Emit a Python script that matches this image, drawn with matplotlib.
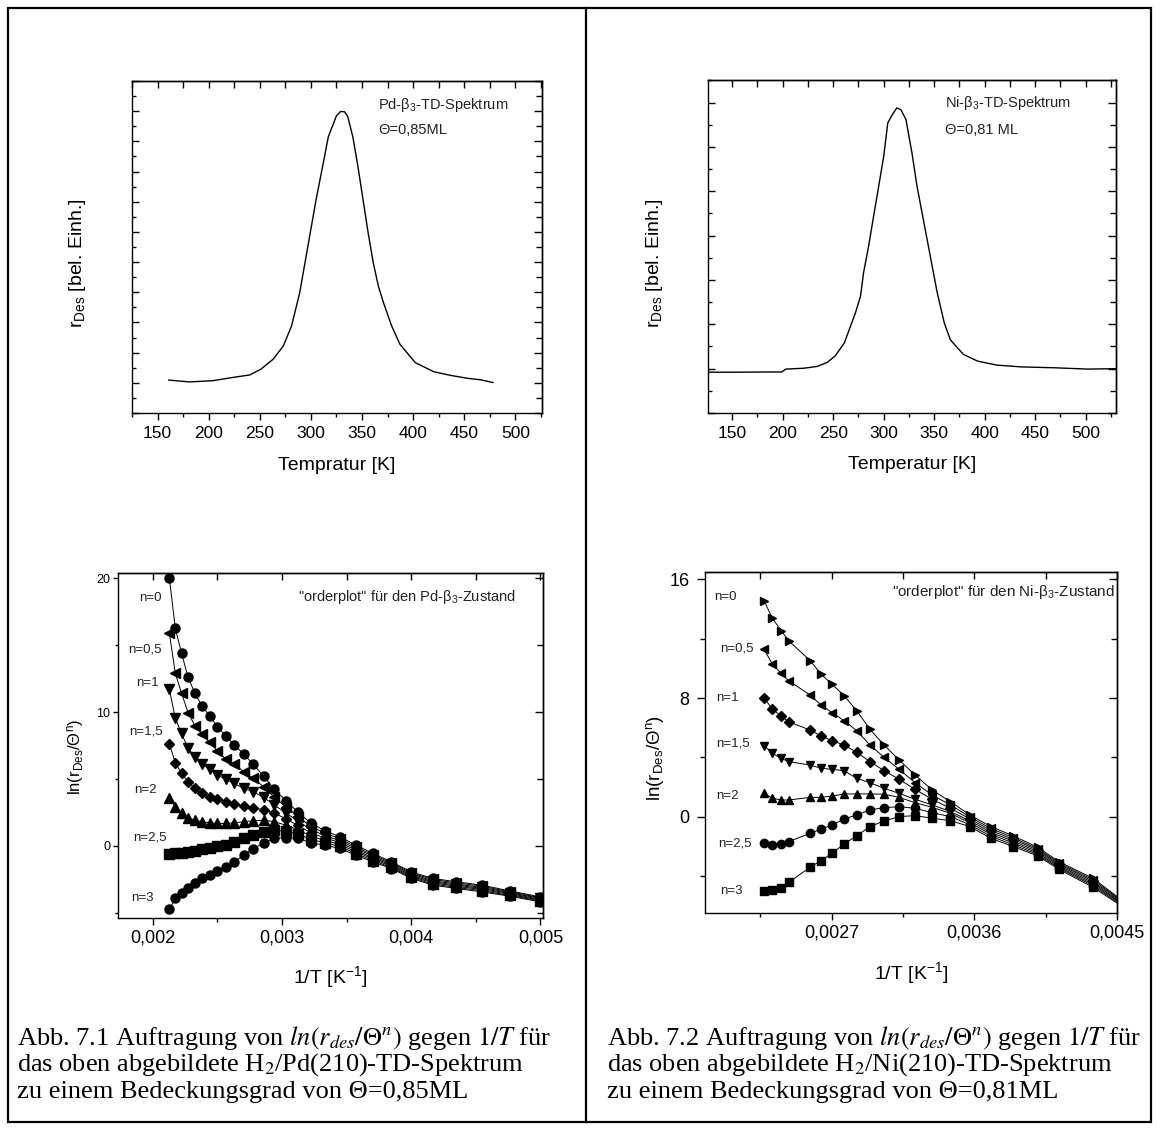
import matplotlib
matplotlib.use("Agg")
import matplotlib.pyplot as plt
from matplotlib.ticker import MultipleLocator, FuncFormatter, NullFormatter
from matplotlib.lines import Line2D
from matplotlib.patches import Rectangle

plt.rcParams['font.family'] = ['Liberation Sans', 'DejaVu Sans']
plt.rcParams['mathtext.fontset'] = 'custom'
plt.rcParams['mathtext.rm'] = 'Liberation Sans'
plt.rcParams['mathtext.it'] = 'Liberation Sans:italic'
plt.rcParams['mathtext.bf'] = 'Liberation Sans:bold'
plt.rcParams['axes.linewidth'] = 1.0

W, H = 1160, 1131

## TD spectra (arbitrary units)
pd_T = [161, 181, 204, 224, 240, 251, 263, 273, 281, 289, 297, 305, 312, 317, 322,
        325, 329, 333, 336, 341, 346, 351, 356, 361, 366, 371, 379, 387, 402, 420, 436,
        453, 466, 478]
pd_r = [0.09, 0.03, 0.07, 0.18, 0.26, 0.45, 0.78, 1.22, 1.88, 2.98, 4.52, 6.06, 7.27,
        8.15, 8.59, 8.85, 8.99, 8.98, 8.82, 8.15, 7.16, 6.06, 4.96, 3.97, 3.2, 2.65,
        1.88, 1.28, 0.67, 0.37, 0.25, 0.15, 0.10, 0.01]

ni_T = [127, 155, 181, 199, 203, 221, 234, 244, 252, 261, 267, 272, 277, 280, 285,
        290, 295, 300, 304, 308.5, 313, 317, 322, 325, 328, 333, 338, 343, 348, 353,
        360, 366, 373, 379, 393, 412, 436, 469, 502, 530]
ni_r = [-0.08, -0.08, -0.075, -0.075, -0.01, 0.01, 0.05, 0.14, 0.29, 0.58, 0.95, 1.26,
        1.63, 2.16, 2.76, 3.44, 4.11, 4.79, 5.54, 5.73, 5.88, 5.84, 5.62, 5.24, 4.86,
        4.11, 3.51, 2.91, 2.31, 1.71, 1.03, 0.65, 0.47, 0.32, 0.17, 0.08, 0.04, 0.02,
        -0.01, 0.0]

## orderplots, Pd
pd_temps = [470, 460, 450, 440, 430, 420, 410, 400, 390, 380, 370, 360, 350, 340,
            330, 320, 310, 300, 290, 280, 270, 260, 250, 240, 230, 220, 210, 200]
pd_n0 = [20.0, 16.26, 14.39, 12.59, 11.40, 10.45, 9.73, 8.90, 8.23, 7.53, 6.86, 6.08,
         5.21, 4.21, 3.37, 2.49, 1.67, 1.12, 0.67, 0.05, -0.57, -1.20, -1.95, -2.44,
         -2.69, -2.94, -3.37, -3.82]
pd_n05 = [15.89, 12.89, 11.40, 9.95, 8.98, 8.35, 7.73, 7.08, 6.48, 6.11, 5.54, 5.04,
          4.41, 3.62, 2.91, 2.17, 1.43, 0.94, 0.53, -0.08, -0.68, -1.28, -2.03, -2.52,
          -2.77, -3.02, -3.44, -3.88]
pd_n1 = [11.70, 9.53, 8.40, 7.28, 6.66, 6.11, 5.71, 5.29, 4.96, 4.66, 4.29, 4.04,
         3.62, 3.04, 2.45, 1.84, 1.19, 0.76, 0.38, -0.20, -0.78, -1.37, -2.11, -2.61,
         -2.86, -3.11, -3.50, -3.94]
pd_n15 = [7.61, 6.21, 5.41, 4.79, 4.29, 3.92, 3.67, 3.47, 3.29, 3.12, 2.99, 2.82,
          2.70, 2.45, 2.00, 1.52, 0.95, 0.59, 0.24, -0.33, -0.89, -1.45, -2.20, -2.69,
          -2.94, -3.19, -3.57, -4.01]
pd_n2 = [3.59, 2.92, 2.42, 2.09, 1.92, 1.80, 1.72, 1.67, 1.67, 1.72, 1.80, 1.87, 1.92,
         1.80, 1.54, 1.20, 0.70, 0.41, 0.09, -0.45, -0.99, -1.53, -2.28, -2.77, -3.02,
         -3.27, -3.64, -4.07]
pd_n25 = [-0.62, -0.57, -0.52, -0.47, -0.40, -0.27, -0.20, -0.02, 0.05, 0.30, 0.55,
          0.80, 1.05, 1.17, 1.08, 0.87, 0.46, 0.23, -0.05, -0.58, -1.10, -1.62, -2.36,
          -2.86, -3.11, -3.36, -3.71, -4.13]
pd_n3 = [-4.75, -3.93, -3.56, -3.18, -2.76, -2.44, -2.19, -1.87, -1.57, -1.20, -0.70,
         -0.22, 0.22, 0.55, 0.62, 0.55, 0.22, 0.05, -0.20, -0.70, -1.20, -1.70, -2.44,
         -2.94, -3.19, -3.44, -3.77, -4.19]

## orderplots, Ni
ni_temps = [440, 430, 420, 412, 390, 380, 370, 360, 350, 340, 330, 320, 310, 300, 290,
            280, 270, 260, 250, 242, 230, 220]
ni_n0 = [14.56, 13.37, 12.54, 11.87, 10.52, 9.62, 8.92, 8.16, 7.15, 5.89, 4.83, 3.82,
         2.81, 1.80, 1.01, 0.11, -0.67, -1.30, -2.07, -3.03, -4.16, -5.75]
ni_n05 = [11.28, 10.29, 9.66, 9.17, 8.20, 7.53, 7.01, 6.47, 5.80, 4.83, 4.00, 3.19,
          2.29, 1.46, 0.79, -0.02, -0.80, -1.42, -2.17, -3.12, -4.26, -5.82]
ni_n1 = [8.02, 7.24, 6.79, 6.40, 5.84, 5.44, 5.12, 4.83, 4.34, 3.71, 3.10, 2.52, 1.84,
         1.17, 0.56, -0.15, -0.93, -1.54, -2.26, -3.20, -4.36, -5.88]
ni_n15 = [4.79, 4.27, 3.93, 3.71, 3.48, 3.26, 3.19, 3.10, 2.58, 2.29, 1.91, 1.57, 1.17,
          0.79, 0.34, -0.28, -1.06, -1.66, -2.36, -3.29, -4.46, -5.95]
ni_n2 = [1.57, 1.24, 1.12, 1.12, 1.30, 1.30, 1.39, 1.53, 1.53, 1.53, 1.51, 1.30, 0.94,
         0.63, 0.22, -0.41, -1.19, -1.78, -2.46, -3.38, -4.56, -6.01]
ni_n25 = [-1.75, -1.91, -1.87, -1.69, -1.12, -0.85, -0.56, -0.16, 0.11, 0.45, 0.61,
          0.67, 0.56, 0.27, 0.00, -0.54, -1.33, -1.90, -2.56, -3.46, -4.66, -6.08]
ni_n3 = [-5.01, -4.94, -4.83, -4.43, -3.42, -2.97, -2.47, -1.84, -1.30, -0.67, -0.29,
         0.00, 0.07, -0.11, -0.27, -0.67, -1.46, -2.02, -2.65, -3.55, -4.76, -6.15]

n_labels = ['n=0', 'n=0,5', 'n=1', 'n=1,5', 'n=2', 'n=2,5', 'n=3']
pd_markers = ['o', '<', 'v', 'D', '^', 's', 'o']
ni_markers = ['>', '<', 'D', 'v', '^', 'o', 's']

# label positions in pixels of the page
pd_lab_xy = [(150, 598), (145, 649), (147, 683), (146, 732), (145, 790), (150, 837), (142, 898)]
ni_lab_xy = [(725, 597), (737, 649), (727, 698), (733, 744), (727, 796), (735, 844), (731, 891)]


fig = plt.figure(figsize=(W / 100, H / 100), dpi=100)


def add_ax(x0, y0, x1, y1):
    return fig.add_axes([x0 / W, 1 - y1 / H, (x1 - x0) / W, (y1 - y0) / H])


def style(ax, xmaj, xmin, ymaj, ymin, ydir, ylen, xlen=5, yfmt=None, xfmt=None):
    ax.xaxis.set_major_locator(MultipleLocator(xmaj))
    ax.xaxis.set_minor_locator(MultipleLocator(xmin))
    ax.yaxis.set_major_locator(MultipleLocator(ymaj))
    ax.yaxis.set_minor_locator(MultipleLocator(ymin))
    ax.tick_params(axis='x', which='major', direction='out', length=xlen, width=1)
    ax.tick_params(axis='x', which='minor', direction='out', length=xlen * 0.6, width=1)
    ax.tick_params(axis='y', which='major', direction=ydir, length=ylen, width=1)
    ax.tick_params(axis='y', which='minor', direction=ydir, length=ylen * 0.6, width=1)
    if xfmt is not None:
        ax.xaxis.set_major_formatter(xfmt)
    if yfmt is not None:
        ax.yaxis.set_major_formatter(yfmt)
    top = ax.secondary_xaxis('top')
    top.xaxis.set_major_locator(MultipleLocator(xmaj))
    top.xaxis.set_minor_locator(MultipleLocator(xmin))
    top.tick_params(axis='x', which='both', direction='in', length=5, width=1, labeltop=False)
    right = ax.secondary_yaxis('right')
    right.yaxis.set_major_locator(MultipleLocator(ymaj))
    right.yaxis.set_minor_locator(MultipleLocator(ymin))
    right.tick_params(axis='y', which='major', direction='in', length=6, width=1, labelright=False)
    right.tick_params(axis='y', which='minor', direction='in', length=4, width=1, labelright=False)


def comma(fmt):
    return FuncFormatter(lambda v, p: fmt.format(v).replace('.', ','))


# ---------- top left: Pd TD spectrum
ax1 = add_ax(132, 81, 542, 413)
ax1.plot(pd_T, pd_r, color='black', lw=1.0)
ax1.set_xlim(125, 526)
ax1.set_ylim(-1, 10)
style(ax1, 50, 25, 1, 0.5, 'in', 5, yfmt=NullFormatter())
ax1.tick_params(axis='x', labelsize=12.5, pad=4)
ax1.set_xlabel('Tempratur [K]', fontsize=14, va='center')
ax1.xaxis.set_label_coords(0.5, -0.157)
ax1.set_ylabel(r'r$_{\mathrm{Des}}$ [bel. Einh.]', fontsize=14, va='center')
ax1.yaxis.set_label_coords(-0.134, 0.45)
ax1.text(0.6, 0.928, r'Pd-$\mathrm{\beta}_{3}$-TD-Spektrum', transform=ax1.transAxes,
         fontsize=10.5, va='center', color='#222222')
ax1.text(0.6, 0.852, 'Θ=0,85ML', transform=ax1.transAxes, fontsize=10.5, va='center',
         color='#222222')

# ---------- top right: Ni TD spectrum
ax2 = add_ax(708, 80, 1116, 413)
ax2.plot(ni_T, ni_r, color='black', lw=1.0)
ax2.set_xlim(126, 530)
ax2.set_ylim(-1, 6.51)
style(ax2, 50, 25, 1, 0.5, 'in', 5, yfmt=NullFormatter())
ax2.tick_params(axis='x', labelsize=12.5, pad=4)
ax2.set_xlabel('Temperatur [K]', fontsize=14, va='center')
ax2.xaxis.set_label_coords(0.5, -0.156)
ax2.set_ylabel(r'r$_{\mathrm{Des}}$ [bel. Einh.]', fontsize=14, va='center')
ax2.yaxis.set_label_coords(-0.13, 0.45)
ax2.text(0.581, 0.931, r'Ni-$\mathrm{\beta}_{3}$-TD-Spektrum', transform=ax2.transAxes,
         fontsize=10.5, va='center', color='#222222')
ax2.text(0.581, 0.85, 'Θ=0,81 ML', transform=ax2.transAxes, fontsize=10.5, va='center',
         color='#222222')

# ---------- bottom left: Pd orderplot
ax3 = add_ax(118, 573, 543, 918)
pd_x = [1.0 / t for t in pd_temps]
pd_series = [pd_n0, pd_n05, pd_n1, pd_n15, pd_n2, pd_n25, pd_n3]
for ys, m in zip(pd_series, pd_markers):
    ms = 5.5 if m == 'D' else 6.5
    ax3.plot(pd_x, ys, color='black', lw=0.7, marker=m, ms=ms, mec='black', mfc='black')
ax3.set_xlim(0.00173, 0.00502)
ax3.set_ylim(-5.4, 20.4)
style(ax3, 0.001, 0.0005, 10, 5, 'out', 3.5, xfmt=comma('{:.3f}'))
ax3.tick_params(axis='x', labelsize=13, pad=3)
ax3.tick_params(axis='y', labelsize=9, pad=2)
ax3.set_xlabel(r'1/T [K$^{\mathrm{-1}}$]', fontsize=14, va='center')
ax3.xaxis.set_label_coords(0.5, -0.171)
ax3.set_ylabel(r'ln(r$_{\mathrm{Des}}$/Θ$^{\mathrm{n}}$)', fontsize=12, va='center')
ax3.yaxis.set_label_coords(-0.101, 0.467)
ax3.text(0.936, 0.93, r'"orderplot" für den Pd-$\mathrm{\beta}_{3}$-Zustand',
         transform=ax3.transAxes, fontsize=10.5, ha='right', va='center', color='#222222')
for lab, (px, py) in zip(n_labels, pd_lab_xy):
    ax3.text((px - 118) / 425, (918 - py) / 345, lab, transform=ax3.transAxes,
             fontsize=9.5, ha='center', va='center', color='#222222')

# ---------- bottom right: Ni orderplot
ax4 = add_ax(705, 572, 1117, 913)
ni_x = [1.0 / t for t in ni_temps]
ni_series = [ni_n0, ni_n05, ni_n1, ni_n15, ni_n2, ni_n25, ni_n3]
for ys, m in zip(ni_series, ni_markers):
    ms = 5.0 if m == 'D' else 6.0
    ax4.plot(ni_x, ys, color='black', lw=0.7, marker=m, ms=ms, mec='black', mfc='black')
ax4.set_xlim(0.0019, 0.0045)
ax4.set_ylim(-6.5, 16.5)
style(ax4, 0.0009, 0.00045, 8, 4, 'out', 6, xfmt=comma('{:.4f}'))
ax4.tick_params(axis='x', labelsize=13, pad=3)
ax4.tick_params(axis='y', labelsize=13, pad=5)
ax4.set_xlabel(r'1/T [K$^{\mathrm{-1}}$]', fontsize=14, va='center')
ax4.xaxis.set_label_coords(0.5, -0.176)
ax4.set_ylabel(r'ln(r$_{\mathrm{Des}}$/Θ$^{\mathrm{n}}$)', fontsize=13.5, va='center')
ax4.yaxis.set_label_coords(-0.121, 0.455)
ax4.text(0.995, 0.941, r'"orderplot" für den Ni-$\mathrm{\beta}_{3}$-Zustand',
         transform=ax4.transAxes, fontsize=11, ha='right', va='center', color='#222222')
for lab, (px, py) in zip(n_labels, ni_lab_xy):
    ax4.text((px - 705) / 412, (913 - py) / 341, lab, transform=ax4.transAxes,
             fontsize=9.5, ha='center', va='center', color='#222222')

# ---------- captions
cap_left = [r'Abb. 7.1 Auftragung von $\mathit{ln(r_{des}/\Theta^{n})}$ gegen $\mathit{1/T}$ für',
            r'das oben abgebildete H$_2$/Pd(210)-TD-Spektrum',
            'zu einem Bedeckungsgrad von Θ=0,85ML']
cap_right = [r'Abb. 7.2 Auftragung von $\mathit{ln(r_{des}/\Theta^{n})}$ gegen $\mathit{1/T}$ für',
             r'das oben abgebildete H$_2$/Ni(210)-TD-Spektrum',
             'zu einem Bedeckungsgrad von Θ=0,81ML']
for i, y in enumerate([1038, 1065, 1092]):
    fig.text(17 / W, 1 - y / H, cap_left[i], fontsize=19, family='Liberation Serif',
             math_fontfamily='stix', va='center')
    fig.text(607 / W, 1 - y / H, cap_right[i], fontsize=19, family='Liberation Serif',
             math_fontfamily='stix', va='center')

# ---------- page frame
fig.add_artist(Rectangle((8 / W, 1 - 1122 / H), (1151 - 8) / W, (1122 - 8) / H,
                         fill=False, lw=1.6, ec='black', transform=fig.transFigure))
fig.add_artist(Line2D([586 / W, 586 / W], [1 - 1122 / H, 1 - 8 / H], lw=1.6,
                      color='black', transform=fig.transFigure))

fig.savefig('out.png', dpi=100)
